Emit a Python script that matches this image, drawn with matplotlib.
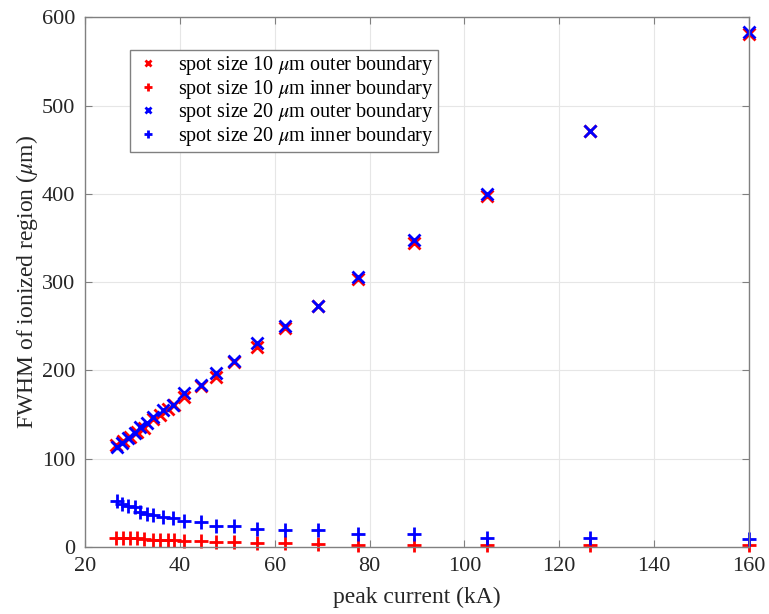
import matplotlib
matplotlib.use("Agg")
import matplotlib.pyplot as plt

plt.rcParams['font.family'] = ['Liberation Serif', 'DejaVu Serif']
plt.rcParams['mathtext.fontset'] = 'stix'

# spot size 10 um
red_current = [26.5, 28.0, 29.5, 30.9, 32.5, 34.4, 35.9, 37.4, 38.8, 40.9, 44.4,
               47.6, 51.5, 56.3, 62.1, 69.1, 77.6, 89.4, 104.7, 126.4, 160.0]
red_outer = [116, 120, 125, 130, 135, 145, 150, 156, 161, 170, 182,
             193, 210, 227, 248, 273, 304, 344, 398, 471, 581]
red_inner = [10, 10, 10, 10, 9, 8.5, 8, 8, 7.5, 7, 7,
             6, 5.5, 5, 4.5, 4, 2.5, 2.5, 2, 2, 2]

# spot size 20 um
blue_current = [26.7, 27.9, 29.0, 30.5, 31.6, 33.0, 34.4, 36.5, 38.6, 40.9, 44.5,
                47.6, 51.5, 56.3, 62.1, 69.1, 77.6, 89.4, 104.7, 126.4, 160.0]
blue_outer = [113, 118, 123, 129, 136, 141, 147, 155, 161, 174, 184,
              197, 211, 231, 250, 273, 306, 348, 400, 471, 583]
blue_inner = [52, 49, 46, 45, 40, 38, 36, 34, 33, 29, 28,
              24, 24, 20, 19, 19, 15, 15, 10, 10, 9]

labels = [r'spot size 10 $\mu$m outer boundary',
          r'spot size 10 $\mu$m inner boundary',
          r'spot size 20 $\mu$m outer boundary',
          r'spot size 20 $\mu$m inner boundary']

fig = plt.figure(figsize=(7.69, 6.14), dpi=100)
ax = fig.add_axes([0.1105, 0.109, 0.8635, 0.863])

ms = 8
ax.plot(red_current, red_outer, 'x', color='red', ms=ms, mew=2, label=labels[0], clip_on=False)
ax.plot(red_current, red_inner, '+', color='red', ms=ms + 2, mew=2, label=labels[1], clip_on=False)
ax.plot(blue_current, blue_outer, 'x', color='blue', ms=ms, mew=2, label=labels[2], clip_on=False)
ax.plot(blue_current, blue_inner, '+', color='blue', ms=ms + 2, mew=2, label=labels[3], clip_on=False)

ax.set_xlim(20, 160)
ax.set_ylim(0, 600)
ax.set_xticks(range(20, 161, 20))
ax.set_yticks(range(0, 601, 100))
ax.grid(True, color='#e6e6e6', linewidth=0.8)
ax.set_axisbelow(True)
for s in ax.spines.values():
    s.set_color('#808080')
    s.set_linewidth(1.0)
ax.tick_params(direction='in', top=True, right=True, length=5, pad=7,
               color='#808080', labelsize=16, labelcolor='#262626')

ax.set_xlabel('peak current (kA)', fontsize=17, color='#262626', labelpad=8)
ax.set_ylabel(r'FWHM of ionized region ($\mu$m)', fontsize=17, color='#262626', labelpad=1)

leg = ax.legend(loc='upper left', bbox_to_anchor=(0.068, 0.938), borderaxespad=0,
                fontsize=14.5, markerscale=0.6, handlelength=1.4, handletextpad=0.8,
                borderpad=0.2, labelspacing=0.03, fancybox=False,
                edgecolor='#808080', framealpha=1)
leg.get_frame().set_linewidth(1.0)

fig.savefig('out.png', dpi=100)
